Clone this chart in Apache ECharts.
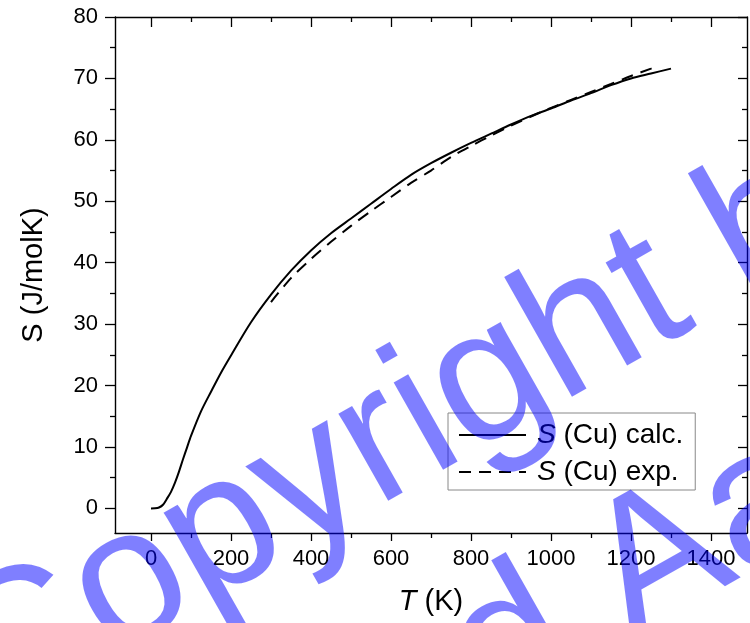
<!DOCTYPE html>
<html>
<head>
<meta charset="utf-8">
<script src="https://cdn.jsdelivr.net/npm/echarts@6/dist/echarts.min.js"></script>
<style>
  html, body { margin: 0; padding: 0; background: #fff; }
  #chart { width: 750px; height: 623px; }
</style>
</head>
<body>
<div id="chart"></div>
<script>
// Entropy of copper: calculated curve and experimental reference
const calcT = [0, 10, 20, 30, 40, 50, 60, 70, 80, 90, 100, 125, 150, 175, 200, 250, 300, 350, 400, 450, 500, 550, 600, 650, 700, 750, 800, 850, 900, 950, 1000, 1050, 1100, 1150, 1200, 1250, 1300];
const calcS = [0, 0.02, 0.15, 0.6, 1.6, 2.7, 4.2, 6.0, 8.0, 9.9, 11.8, 15.8, 19.0, 22.1, 24.9, 30.3, 34.8, 38.7, 42.0, 44.8, 47.2, 49.6, 52.0, 54.3, 56.2, 57.9, 59.5, 61.0, 62.5, 63.9, 65.1, 66.4, 67.6, 68.9, 70.0, 70.8, 71.6];

const expT = [300, 350, 400, 450, 500, 550, 600, 650, 700, 750, 800, 850, 900, 950, 1000, 1050, 1100, 1150, 1200, 1250, 1270];
const expS = [33.6, 37.5, 40.6, 43.4, 46.0, 48.4, 50.7, 53.0, 55.0, 57.2, 59.0, 60.7, 62.3, 63.8, 65.2, 66.5, 67.8, 69.1, 70.4, 71.6, 72.1];

const xMajor = [0, 200, 400, 600, 800, 1000, 1200, 1400];
const xMinor = [100, 300, 500, 700, 900, 1100, 1300];
const yMajor = [0, 10, 20, 30, 40, 50, 60, 70, 80];
const yMinor = [5, 15, 25, 35, 45, 55, 65, 75];

const FONT = 'Liberation Sans, Arial, sans-serif';
const INK = '#000';
const X_MIN = -90, X_MAX = 1490, Y_MIN = -4, Y_MAX = 80;

function zip(a, b) { return a.map((v, i) => [v, b[i]]); }
function plain(v) { return String(v); }

function xAxisDef(pos, values, len, inside, withLine, withLabel) {
  return {
    type: 'value', position: pos, min: X_MIN, max: X_MAX,
    axisLine: { show: withLine, onZero: false, lineStyle: { color: INK, width: 1.4 } },
    axisTick: { show: true, inside: inside, length: len, customValues: values, lineStyle: { color: INK, width: 1.3 } },
    axisLabel: withLabel ? { show: true, customValues: values, formatter: plain, margin: 15, color: INK, fontSize: 22, fontFamily: FONT } : { show: false },
    splitLine: { show: false }
  };
}
function yAxisDef(pos, values, len, inside, withLine, withLabel) {
  return {
    type: 'value', position: pos, min: Y_MIN, max: Y_MAX,
    axisLine: { show: withLine, onZero: false, lineStyle: { color: INK, width: 1.4 } },
    axisTick: { show: true, inside: inside, length: len, customValues: values, lineStyle: { color: INK, width: 1.3 } },
    axisLabel: withLabel ? { show: true, customValues: values, formatter: plain, margin: 17, color: INK, fontSize: 22, fontFamily: FONT } : { show: false },
    splitLine: { show: false }
  };
}

const xMain = xAxisDef('bottom', xMajor, 8, false, true, true);
xMain.name = '{i|T} (K)';
xMain.nameLocation = 'middle';
xMain.nameGap = 54;
xMain.nameTextStyle = { color: INK, fontSize: 29, fontFamily: FONT, rich: { i: { fontStyle: 'italic', fontSize: 29, fontFamily: FONT, color: INK } } };

const yMain = yAxisDef('left', yMajor, 10, false, true, true);
yMain.name = 'S (J/molK)';
yMain.nameLocation = 'middle';
yMain.nameGap = 67;
yMain.nameTextStyle = { color: INK, fontSize: 29, fontFamily: FONT };

// translucent watermark lettering laid over the plot
const WM = 'rgba(0,0,255,0.5)';
const wmRot = 29.5 * Math.PI / 180;
const wmStyle = { fontSize: 190, fontFamily: FONT, fill: WM, align: 'left', verticalAlign: 'middle', textAlign: 'left', textVerticalAlign: 'middle' };

const option = {
  animation: false,
  backgroundColor: '#fff',
  grid: { left: 115, top: 17, right: 3, bottom: 90, containLabel: false },
  xAxis: [
    xMain,
    xAxisDef('bottom', xMinor, 5, false, false, false),
    xAxisDef('top', xMajor, 10, true, true, false),
    xAxisDef('top', xMinor, 5, true, false, false)
  ],
  yAxis: [
    yMain,
    yAxisDef('left', yMinor, 5, false, false, false),
    yAxisDef('right', yMajor, 9, true, true, false),
    yAxisDef('right', yMinor, 5, true, false, false)
  ],
  legend: {
    orient: 'vertical',
    left: 448, top: 413,
    itemWidth: 67, itemHeight: 14, itemGap: 7,
    padding: [7, 12, 3, 10],
    borderColor: '#888', borderWidth: 1,
    backgroundColor: '#fff',
    itemStyle: { opacity: 0, color: 'transparent', borderWidth: 0 },
    textStyle: { color: INK, fontSize: 28, fontFamily: FONT, lineHeight: 30,
      rich: { s: { fontStyle: 'italic', fontSize: 28, fontFamily: FONT, color: INK, padding: [0, 0, 0, 6] } } },
    formatter: function (name) { return name.replace(/^S/, '{s|S}'); },
    data: ['S (Cu) calc.', 'S (Cu) exp.']
  },
  series: [
    {
      name: 'S (Cu) calc.', type: 'line', xAxisIndex: 0, yAxisIndex: 0,
      data: zip(calcT, calcS), symbol: 'none', smooth: 0.3,
      lineStyle: { color: INK, width: 2, type: 'solid' }, itemStyle: { color: INK }
    },
    {
      name: 'S (Cu) exp.', type: 'line', xAxisIndex: 0, yAxisIndex: 0,
      data: zip(expT, expS), symbol: 'none', smooth: 0.3,
      lineStyle: { color: INK, width: 2, type: [12, 8] }, itemStyle: { color: INK }
    }
  ],
  graphic: [
    { type: 'text', z: 100, x: -35, y: 680, rotation: wmRot, silent: true,
      style: Object.assign({ text: 'Copyright by' }, wmStyle) },
    { type: 'text', z: 100, x: 467, y: 672, rotation: wmRot, silent: true,
      style: Object.assign({ text: 'd Aa' }, wmStyle) }
  ]
};

const chart = echarts.init(document.getElementById('chart'), null, { renderer: 'canvas' });
chart.setOption(option);
</script>
</body>
</html>
